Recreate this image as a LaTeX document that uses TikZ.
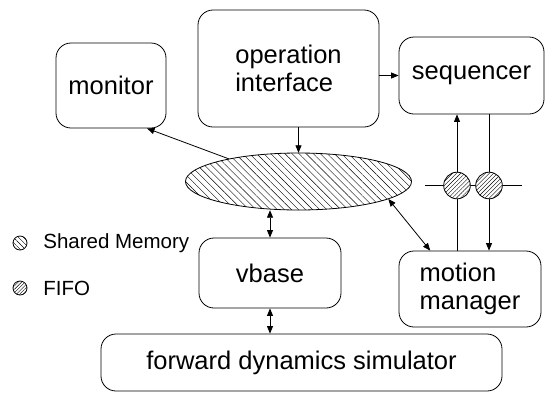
\documentclass[tikz,border=0pt]{standalone}
\usepackage{fontspec}
\setmainfont{Liberation Sans}
\usetikzlibrary{shapes.geometric, arrows.meta, patterns.meta}

\begin{document}
\begin{tikzpicture}[x=1pt, y=-1pt, line width=0.8pt,
	>={Triangle[length=7.5pt,width=6pt]},
	box/.style={draw, rounded corners=15pt, inner sep=0pt, font=\fontsize{25.5}{28}\selectfont},
	fifo/.style={circle, draw, inner sep=0pt, minimum size=26.6pt, preaction={fill=white}, pattern={Lines[angle=45,distance=2.9pt,line width=0.4pt]}},
	legend/.style={font=\fontsize{20.5}{24}\selectfont, anchor=west, inner sep=0pt}]
						\useasboundingbox (0,0) rectangle (545,392);
						
						\node[box, minimum width=110pt, minimum height=85pt] (mon) at (111,85.5) {monitor};
						\node[box, minimum width=181pt, minimum height=117pt, align=left] (op) at (288.5,68.5) {operation\\interface};
						\node[box, minimum width=145pt, minimum height=77pt] (seq) at (471.5,75.5) {sequencer};
						\node[box, minimum width=142pt, minimum height=70pt] (vb) at (270,273) {vbase};
						\node[box, minimum width=142pt, minimum height=76pt, align=left] (mm) at (470,289) {motion\\manager};
						\node[box, minimum width=401pt, minimum height=57pt] (fds) at (301.5,362.5) {forward dynamics simulator};
						
						\node[ellipse, draw, inner sep=0pt, minimum width=226pt, minimum height=57pt,
							pattern={Lines[angle=-45,distance=5pt,line width=0.4pt]}] (shm) at (298.5,181.5) {};
						
						\coordinate (bl) at (425,185.5);
						\coordinate (br) at (522,185.5);
						\draw (bl) -- (br);
						\node[fifo] (f1) at (457,185.5) {};
						\node[fifo] (f2) at (489,185.5) {};
						
						\draw[->] (op.east |- seq.west) -- (seq.west);
						\draw[->] (op.south -| shm.north) -- (shm.north);
						\draw[->] (shm.162) -- (mon.-50);
						\draw[<->] (vb.north) -- (shm.south -| vb.north);
						\draw[<->] (vb.south) -- (vb.south |- fds.north);
						\draw[<->] (shm.-11) -- (mm.136);
						
						\draw[->] (f1.north) -- (seq.south -| f1.north);
						\draw (seq.south -| f2.north) -- (f2.north);
						\draw (mm.north -| f1.south) -- (f1.south);
						\draw[->] (f2.south) -- (mm.north -| f2.south);
						
						\node[circle, draw, inner sep=0pt, minimum size=14pt,
							pattern={Lines[angle=-45,distance=3.6pt,line width=0.4pt]}] (lsm) at (20,243) {};
						\node[legend] (tsm) at (43,243) {Shared Memory};
						\node[circle, draw, inner sep=0pt, minimum size=14pt,
							pattern={Lines[angle=45,distance=2.4pt,line width=0.4pt]}] (lfifo) at (20,288) {};
						\node[legend] (tfifo) at (43,288) {FIFO};
					\end{tikzpicture}
\end{document}
